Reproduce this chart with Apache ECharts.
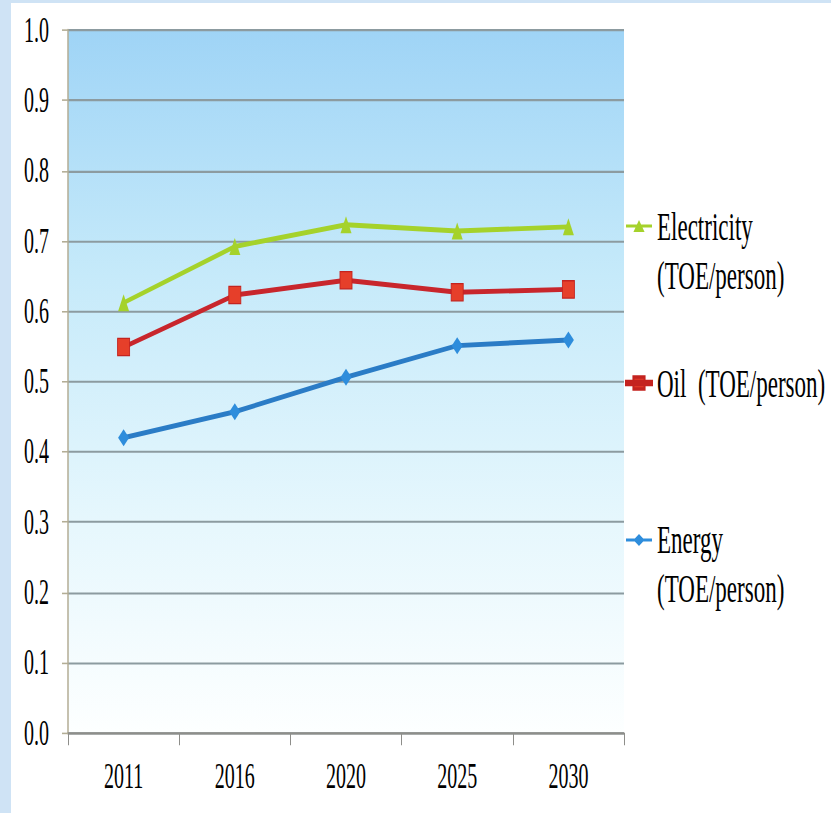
<!DOCTYPE html>
<html>
<head>
<meta charset="utf-8">
<script src="https://cdn.jsdelivr.net/npm/echarts@6/dist/echarts.min.js"></script>
<style>
  html, body { margin: 0; padding: 0; width: 831px; height: 813px; overflow: hidden; background: #cfe3f5; }
  #frame { position: absolute; left: 11px; top: 3px; width: 820px; height: 810px; background: #ffffff; overflow: hidden; }
  /* the chart is laid out on a short canvas and stretched tall, giving the narrow, tall lettering */
  #chart { width: 820px; height: 463px; transform: scaleY(1.7495); transform-origin: 0 0; }
</style>
</head>
<body>
<div id="frame"><div id="chart"></div></div>
<script>
// Years on the category axis
const years = ['2011', '2016', '2020', '2025', '2030'];

// Consumption per person, tonnes of oil equivalent
const electricity = [0.612, 0.692, 0.723, 0.714, 0.720];
const oil = [0.549, 0.623, 0.644, 0.627, 0.631];
const energy = [0.420, 0.457, 0.506, 0.551, 0.559];

// Series names and the way they are written in the legend
const seriesNames = ['Electricity (TOE/person)', 'Oil (TOE/person)', 'Energy (TOE/person)'];
const legendTexts = ['\nElectricity\n(TOE/person)', 'Oil\u00a0 (TOE/person)', '\nEnergy\n(TOE/person)'];

const FONT = "'Liberation Serif', 'Times New Roman', serif";

// Legend icons: a short bar with the series marker in its middle
const iconTriangle = 'path://M0 4.5 L28 4.5 L28 7.5 L0 7.5 Z M14 0 L20 12 L8 12 Z';
const iconSquare = 'path://M0 4.5 L28 4.5 L28 7.5 L0 7.5 Z M8 0 L20 0 L20 12 L8 12 Z';
const iconDiamond = 'path://M0 4.5 L28 4.5 L28 7.5 L0 7.5 Z M14 0 L20 6 L14 12 L8 6 Z';

const chart = echarts.init(document.getElementById('chart'), null, { renderer: 'svg' });

chart.setOption({
  animation: false,
  backgroundColor: '#ffffff',
  grid: {
    left: 57,
    right: 207,
    top: 15.43,
    bottom: 45.74,
    show: true,
    borderWidth: 0,
    backgroundColor: {
      type: 'linear', x: 0, y: 0, x2: 0, y2: 1,
      colorStops: [
        { offset: 0, color: '#9fd4f6' },
        { offset: 0.35, color: '#c6eafa' },
        { offset: 0.7, color: '#e6f7fd' },
        { offset: 1, color: '#fdffff' }
      ]
    }
  },
  legend: {
    orient: 'vertical',
    left: 614,
    top: 85.5,
    padding: 0,
    itemGap: 33.7,
    itemWidth: 26,
    itemHeight: 6.9,
    symbolKeepAspect: false,
    selectedMode: false,
    data: [
      { name: seriesNames[0], icon: iconTriangle },
      { name: seriesNames[1], icon: iconSquare },
      { name: seriesNames[2], icon: iconDiamond }
    ],
    formatter: function (name) {
      return legendTexts[seriesNames.indexOf(name)];
    },
    textStyle: {
      fontFamily: FONT,
      fontSize: 23,
      lineHeight: 28,
      color: '#000000'
    }
  },
  xAxis: {
    type: 'category',
    data: years,
    boundaryGap: true,
    axisLine: { show: true, lineStyle: { color: '#8e8e8a', width: 1.3 } },
    axisTick: { show: true, alignWithLabel: false, length: 7, lineStyle: { color: '#8e8e8a', width: 1 } },
    axisLabel: { fontFamily: FONT, fontSize: 20, color: '#000000', margin: 15 },
    splitLine: { show: false }
  },
  yAxis: {
    type: 'value',
    min: 0,
    max: 1,
    interval: 0.1,
    axisLine: { show: true, lineStyle: { color: '#b3ad95', width: 1.5 } },
    axisTick: { show: true, inside: false, length: 6, lineStyle: { color: '#b3ad95', width: 0.9 } },
    axisLabel: {
      fontFamily: FONT, fontSize: 20, color: '#000000', margin: 19,
      formatter: function (v) { return v.toFixed(1); }
    },
    splitLine: { show: true, lineStyle: { color: '#8c9ba0', width: 1.2 } }
  },
  series: [
    {
      name: seriesNames[0],
      type: 'line',
      data: electricity,
      symbol: 'triangle',
      symbolSize: [11, 9.7],
      lineStyle: { color: '#a5d22b', width: 2.8 },
      itemStyle: { color: '#a5d22b' },
      z: 3
    },
    {
      name: seriesNames[1],
      type: 'line',
      data: oil,
      symbol: 'rect',
      symbolSize: [12, 9.9],
      lineStyle: { color: '#c8262c', width: 2.8 },
      itemStyle: { color: '#e63f2a', borderColor: '#c4231f', borderWidth: 0.8 },
      z: 3
    },
    {
      name: seriesNames[2],
      type: 'line',
      data: energy,
      symbol: 'diamond',
      symbolSize: [11, 9.7],
      lineStyle: { color: '#2b7cc6', width: 2.8 },
      itemStyle: { color: '#2e8ddc' },
      z: 3
    }
  ]
});
</script>
</body>
</html>
